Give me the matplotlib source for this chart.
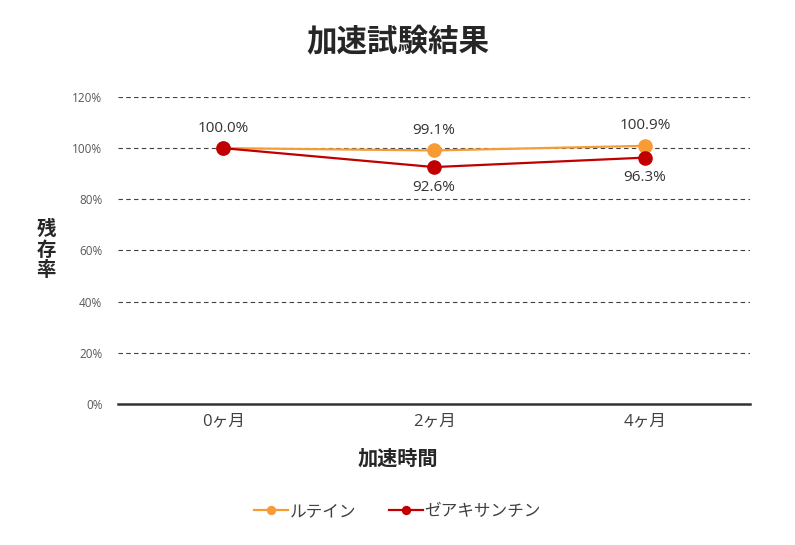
import matplotlib.pyplot as plt

plt.rcParams['font.family'] = ['Open Sans', 'Noto Sans CJK JP', 'DejaVu Sans']

months = ['0ヶ月', '2ヶ月', '4ヶ月']
lutein = [100.0, 99.1, 100.9]
zeaxanthin = [100.0, 92.6, 96.3]
yticks = [0, 20, 40, 60, 80, 100, 120]

fig = plt.figure(figsize=(7.95, 5.45), dpi=100)
ax = fig.add_axes([0.148, 0.259, 0.796, 0.563])

x = range(len(months))
ax.plot(x, lutein, color='#F79B34', lw=1.6, marker='o', ms=9.5, label='ルテイン', zorder=3)
ax.plot(x, zeaxanthin, color='#C00000', lw=1.6, marker='o', ms=9.5, label='ゼアキサンチン', zorder=4)

for i, v in enumerate(lutein):
    ax.annotate(f'{v:.1f}%', (i, v), xytext=(0, 9), textcoords='offset points',
                ha='center', va='bottom', fontsize=11, color='#333333')
for i, v in enumerate(zeaxanthin):
    if i == 0:
        continue
    ax.annotate(f'{v:.1f}%', (i, v), xytext=(0, -9), textcoords='offset points',
                ha='center', va='top', fontsize=11, color='#333333')

ax.set_xlim(-0.5, 2.5)
ax.set_ylim(0, 120)
ax.set_yticks(yticks)
ax.set_yticklabels([f'{t}%' for t in yticks], fontsize=8.5, color='#595959')
ax.set_xticks(list(x))
ax.set_xticklabels(months, fontsize=12, color='#404040')
ax.tick_params(axis='y', length=0, pad=11)
ax.tick_params(axis='x', length=0, pad=7)
ax.yaxis.grid(True, linestyle=(0, (4, 3)), color='#404040', lw=0.8)
ax.set_axisbelow(True)
for s in ['top', 'right', 'left']:
    ax.spines[s].set_visible(False)
ax.spines['bottom'].set_color('#333333')
ax.spines['bottom'].set_linewidth(1.8)

fig.text(0.5, 0.92, '加速試験結果', ha='center', va='center', fontsize=22,
         fontweight='bold', color='#262626')
fig.text(0.058, 0.54, '残\n存\n率', ha='center', va='center', fontsize=14,
         fontweight='bold', color='#262626', linespacing=1.05)
fig.text(0.5, 0.156, '加速時間', ha='center', va='center', fontsize=14.5,
         fontweight='bold', color='#262626')

fig.legend(loc='center', bbox_to_anchor=(0.5, 0.06), ncol=2, frameon=False,
           fontsize=12, handlelength=2, handletextpad=0.1, columnspacing=2,
           markerscale=0.6, labelcolor='#404040')

fig.savefig('out.png', dpi=100)
